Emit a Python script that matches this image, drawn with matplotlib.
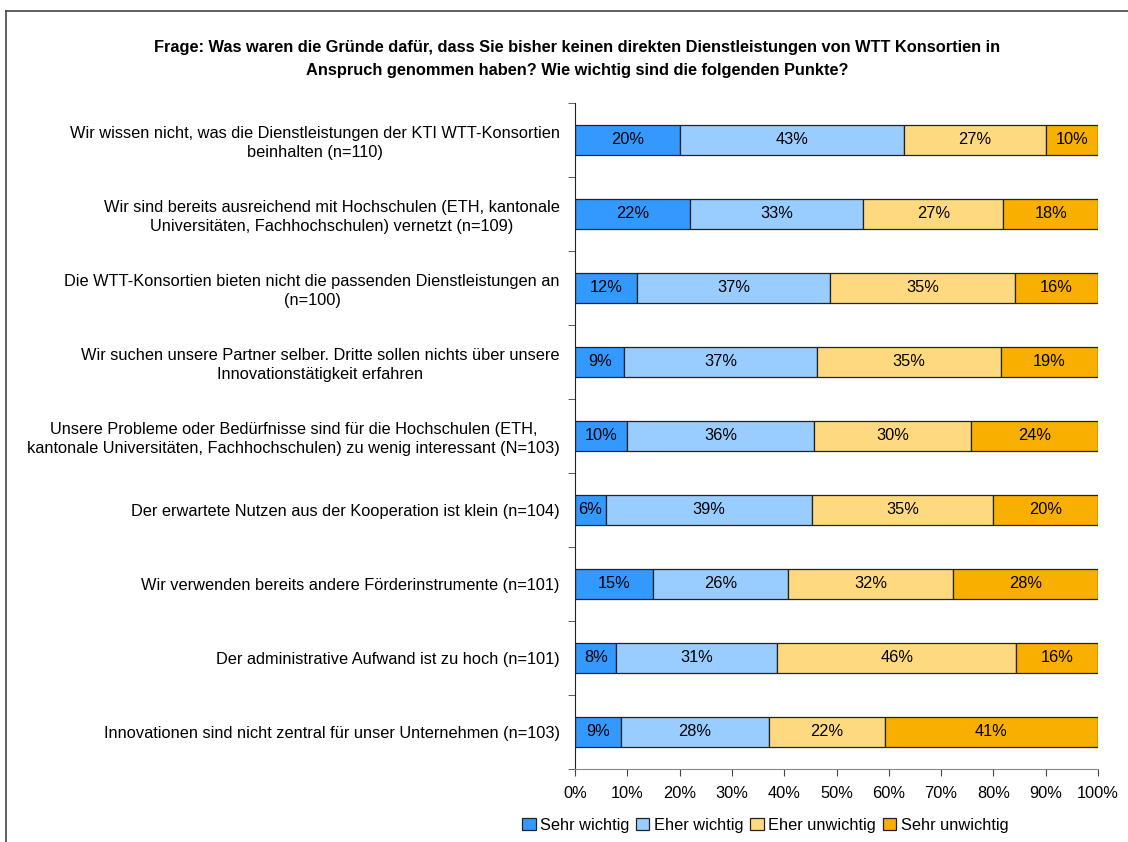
import numpy as np
import matplotlib
matplotlib.use('Agg')
import matplotlib.pyplot as plt
from matplotlib.lines import Line2D

plt.rcParams['font.family'] = ['Liberation Sans', 'DejaVu Sans']

title = ('Frage: Was waren die Gründe dafür, dass Sie bisher keinen direkten Dienstleistungen von WTT Konsortien in\n'
         'Anspruch genommen haben? Wie wichtig sind die folgenden Punkte?')

categories = [
    'Wir wissen nicht, was die Dienstleistungen der KTI WTT-Konsortien\nbeinhalten (n=110)',
    'Wir sind bereits ausreichend mit Hochschulen (ETH, kantonale\nUniversitäten, Fachhochschulen) vernetzt (n=109)',
    'Die WTT-Konsortien bieten nicht die passenden Dienstleistungen an\n(n=100)',
    'Wir suchen unsere Partner selber. Dritte sollen nichts über unsere\nInnovationstätigkeit erfahren',
    'Unsere Probleme oder Bedürfnisse sind für die Hochschulen (ETH,\nkantonale Universitäten, Fachhochschulen) zu wenig interessant (N=103)',
    'Der erwartete Nutzen aus der Kooperation ist klein (n=104)',
    'Wir verwenden bereits andere Förderinstrumente (n=101)',
    'Der administrative Aufwand ist zu hoch (n=101)',
    'Innovationen sind nicht zentral für unser Unternehmen (n=103)',
]

series = ['Sehr wichtig', 'Eher wichtig', 'Eher unwichtig', 'Sehr unwichtig']
sehr_wichtig = [20.1, 22.0, 11.9, 9.4, 9.9, 5.9, 14.9, 7.9, 8.8]
eher_wichtig = [42.8, 33.1, 36.9, 36.8, 35.8, 39.4, 25.8, 30.8, 28.2]
eher_unwichtig = [27.2, 26.8, 35.3, 35.2, 30.1, 34.7, 31.6, 45.6, 22.2]
sehr_unwichtig = [9.9, 18.1, 15.9, 18.6, 24.2, 20.0, 27.7, 15.7, 40.8]
colors = ['#3399FF', '#99CCFF', '#FFD980', '#F9AF00']

fs = 11.8

fig = plt.figure(figsize=(11.28, 8.42), dpi=100)
ax = fig.add_axes([0.5098, 0.0867, 0.4636, 0.791])

y = np.arange(len(categories))
left = np.zeros(len(categories))
for name, vals, col in zip(series, [sehr_wichtig, eher_wichtig, eher_unwichtig, sehr_unwichtig], colors):
    vals = np.array(vals)
    ax.barh(y, vals, left=left, height=0.41, color=col, edgecolor='#222222', linewidth=0.9, label=name)
    for yi, l, v in zip(y, left, vals):
        ax.text(l + v / 2, yi, f'{round(v)}%', ha='center', va='center', fontsize=fs)
    left += vals

ax.set_xlim(0, 100)
ax.set_ylim(len(categories) - 0.5, -0.5)
ax.set_xticks(np.arange(0, 101, 10))
ax.set_xticklabels([f'{t}%' for t in range(0, 101, 10)], fontsize=fs)
ax.set_yticks(y)
ax.set_yticklabels(categories, fontsize=fs, linespacing=1.3)
for lbl in ax.get_yticklabels():
    lbl.set_multialignment('center')
ax.set_yticks(np.arange(-0.5, len(categories), 1), minor=True)
ax.tick_params(axis='y', which='major', length=0, pad=11)
ax.tick_params(axis='y', which='minor', length=5, direction='out', color='#444444')
ax.tick_params(axis='x', length=5, direction='out', color='#444444', pad=7)
for s in ['top', 'right']:
    ax.spines[s].set_visible(False)
ax.spines['left'].set_color('#222222')
ax.spines['bottom'].set_color('#888888')

fig.text(0.5115, 0.953, title, ha='center', va='top', fontsize=fs, fontweight='bold', linespacing=1.7)

ax.legend(loc='upper center', bbox_to_anchor=(0.364, -0.063), ncol=4, frameon=False, fontsize=fs,
          handlelength=0.8, handleheight=0.8, handletextpad=0.3, columnspacing=0.4, borderaxespad=0)

# frame around the chart (top and left edges visible)
fig.add_artist(Line2D([0.0053, 0.0053], [0.0, 0.987], color='#444444', linewidth=1.2))
fig.add_artist(Line2D([0.0053, 1.0], [0.987, 0.987], color='#444444', linewidth=1.2))

fig.savefig('out.png', dpi=100)
